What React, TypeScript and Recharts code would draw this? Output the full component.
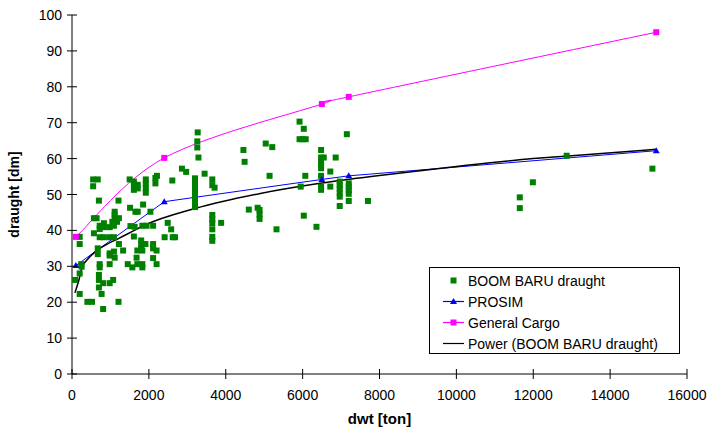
import React from 'react';
import { ComposedChart, Scatter, Line, XAxis, YAxis, Legend } from 'recharts';

const FONT = '"Liberation Sans", Arial, sans-serif';

const X_TICKS = [0, 2000, 4000, 6000, 8000, 10000, 12000, 14000, 16000];
const Y_TICKS = [0, 10, 20, 30, 40, 50, 60, 70, 80, 90, 100];

// measured ship data [dwt, draught]
const boomBaru: [number, number][] = [
  [3270, 67.3], [3260, 64.8], [3260, 63.1], [3290, 60.3], [4460, 62.4], [4490, 59.1],
  [2860, 57.2], [2970, 56.3], [3450, 55.8], [2210, 55.2],
  [550, 54.2], [670, 54.2], [550, 52.3], [1500, 54.2], [1610, 53.6], [1610, 52.8], [1610, 51.3],
  [1710, 52.7], [1710, 51.7], [1920, 54.2], [1920, 53], [1920, 51.7], [1920, 50.5],
  [2170, 54.6], [2170, 53.1], [2610, 53.9],
  [3200, 54.5], [3200, 53.5], [3200, 52.5], [3200, 51.5], [3200, 50.5], [3200, 49.5],
  [3200, 48.5], [3200, 47.5], [3200, 46.5],
  [3650, 54.2], [3650, 52.6], [3710, 51.9],
  [700, 48.3], [1210, 48.3], [1850, 47.2], [1510, 46.3], [1650, 45.2], [1710, 45.2], [2040, 45.2],
  [1110, 45.2], [1110, 44.3], [570, 43.4], [640, 43.4], [1110, 43.4], [1220, 43.4],
  [1050, 42.4], [1170, 42.4], [830, 42], [720, 41.3], [830, 40.9], [720, 40.4], [980, 40.9],
  [1090, 41.3], [570, 39.2], [1520, 41.2], [1630, 41], [1830, 41.3], [1940, 41.3], [2110, 41.3],
  [2490, 42.1], [2580, 40.3], [2410, 38.1], [2620, 38.1], [2680, 38.1], [200, 38.2], [200, 36.2],
  [720, 38.1], [830, 38.1], [980, 38.1], [1090, 38.1], [1610, 38.3], [1800, 37.2], [1800, 36.2],
  [1800, 35], [1910, 36.2], [1220, 36.2], [670, 35], [980, 33.6], [1090, 34.1], [1330, 34.4],
  [1700, 34.4], [1830, 34.4], [2110, 36.2], [2110, 35], [2200, 34.4], [670, 33.4], [980, 33],
  [1110, 32.4], [1680, 32.4], [2110, 32.3], [1450, 30.6], [1570, 29.7], [1700, 30.6],
  [1830, 29.7], [1830, 30.6], [2200, 30.6], [980, 30.6], [720, 30.6], [720, 29.7], [240, 30.6],
  [250, 29.9], [200, 28], [80, 26.2], [700, 27.6], [700, 26.2], [810, 25.3], [980, 25.3],
  [1070, 26.2], [700, 24.1], [770, 22.3], [200, 22.3], [400, 20.1], [520, 20.1], [1210, 20.1],
  [810, 18.1],
  [5920, 70.3], [6030, 68.3], [5920, 65.4], [6000, 65.4], [6080, 65.4], [7150, 66.8],
  [5040, 64.2], [5210, 63.2], [6480, 62.4], [6480, 60.3], [6550, 60.3], [6480, 59.1],
  [6480, 58.2], [6480, 57.3], [6860, 60.3], [6720, 56.4], [6480, 55.2], [5140, 55.2],
  [6070, 55.2], [5950, 52.2], [6480, 52.2], [6480, 51.3], [6720, 52.2],
  [6965, 53.6], [6965, 52.6], [6965, 51.6], [6965, 50.5], [6965, 49.4],
  [7200, 53.1], [7200, 52.2], [7200, 51.2], [7200, 50.2], [7200, 48.2], [7700, 48.2], [6965, 46.8],
  [4600, 45.8], [4830, 46.3], [4880, 45.7], [4880, 44.5], [4880, 43.2],
  [3650, 44.3], [3650, 43.1], [3650, 42], [3880, 42.1], [3650, 40.3], [3650, 38.2], [3650, 37.1],
  [5320, 40.3], [6030, 44.1], [6360, 41],
  [11650, 49.2], [11650, 46.2], [11990, 53.4], [12870, 60.8], [15100, 57.2],
];

const prosim: [number, number][] = [
  [100, 30.2], [2400, 48], [6500, 54.2], [7200, 55.2], [15200, 62.2],
];

const generalCargo: [number, number][] = [
  [100, 38.2], [2400, 60.2], [6500, 75.2], [7200, 77.2], [15200, 95.2],
];

// power trendline
const powerTrend: [number, number][] = [
  [75, 22.6], [180, 26.2], [265, 29.9], [395, 31.8], [610, 34.1], [870, 35.9], [1220, 37.8],
  [1480, 39.2], [1900, 41.5], [3200, 46.1], [4900, 50.3], [6500, 53.2], [8000, 55.3],
  [10000, 57.8], [12000, 60], [13000, 60.8], [15200, 62.6],
];

const toPoints = (arr: [number, number][]) => arr.map(([x, y]) => ({ x, y }));

// Excel-style smoothed line (Catmull-Rom as cubic beziers)
function excelSmooth(context: any) {
  let pts: number[][] = [];
  return {
    areaStart() {},
    areaEnd() {},
    lineStart() {
      pts = [];
    },
    point(x: number, y: number) {
      pts.push([+x, +y]);
    },
    lineEnd() {
      const n = pts.length;
      if (!n) return;
      context.moveTo(pts[0][0], pts[0][1]);
      for (let i = 0; i < n - 1; i++) {
        const p0 = pts[Math.max(0, i - 1)];
        const p1 = pts[i];
        const p2 = pts[i + 1];
        const p3 = pts[Math.min(n - 1, i + 2)];
        context.bezierCurveTo(
          p1[0] + (p2[0] - p0[0]) / 6,
          p1[1] + (p2[1] - p0[1]) / 6,
          p2[0] - (p3[0] - p1[0]) / 6,
          p2[1] - (p3[1] - p1[1]) / 6,
          p2[0],
          p2[1],
        );
      }
    },
  };
}

const XTick = ({ x, y, payload }: any) => (
  <g>
    <line x1={x} x2={x} y1={y - 5} y2={y + 5} stroke="#000" strokeWidth={1} />
    <text x={x} y={y + 26} textAnchor="middle" fontSize={14} fontFamily={FONT} fill="#000">
      {payload.value}
    </text>
  </g>
);

const YTick = ({ x, y, payload }: any) => (
  <g>
    <line x1={x - 5} x2={x + 5} y1={y} y2={y} stroke="#000" strokeWidth={1} />
    <text x={x - 10} y={y + 5} textAnchor="end" fontSize={14} fontFamily={FONT} fill="#000">
      {payload.value}
    </text>
  </g>
);

const GreenSquare = ({ cx, cy }: any) => (
  <rect x={cx - 3} y={cy - 3} width={6} height={6} fill="#008000" />
);

const BlueTriangle = ({ cx, cy }: any) =>
  cx == null ? null : (
    <path d={`M${cx},${cy - 3.5}L${cx + 3.5},${cy + 2.5}L${cx - 3.5},${cy + 2.5}Z`} fill="#0000FF" />
  );

const PinkSquare = ({ cx, cy }: any) =>
  cx == null ? null : <rect x={cx - 3} y={cy - 3} width={6} height={6} fill="#FF00FF" />;

const legendRows = [
  { name: 'BOOM BARU draught', color: '#008000', line: false, marker: 'square' },
  { name: 'PROSIM', color: '#0000FF', line: true, marker: 'triangle' },
  { name: 'General Cargo', color: '#FF00FF', line: true, marker: 'square' },
  { name: 'Power (BOOM BARU draught)', color: '#000000', line: true, marker: 'none' },
];

function LegendBox() {
  return (
    <div
      style={{
        width: 251,
        height: 87,
        boxSizing: 'border-box',
        border: '1px solid #000',
        background: '#fff',
        paddingTop: 2,
        fontFamily: FONT,
        fontSize: 14,
      }}
    >
      {legendRows.map((r) => (
        <div key={r.name} style={{ display: 'flex', alignItems: 'center', height: 21 }}>
          <svg width={38} height={21} style={{ flex: 'none' }}>
            {r.line && <line x1={13} x2={34} y1={10.5} y2={10.5} stroke={r.color} strokeWidth={1.2} />}
            {r.marker === 'square' && <rect x={20.5} y={7.5} width={6} height={6} fill={r.color} />}
            {r.marker === 'triangle' && <path d="M23.5,7L27,13L20,13Z" fill={r.color} />}
          </svg>
          <span style={{ whiteSpace: 'nowrap' }}>{r.name}</span>
        </div>
      ))}
    </div>
  );
}

export default function App() {
  return (
    <div style={{ position: 'absolute', left: 0, top: 0, width: 710, height: 428, background: '#fff' }}>
      <ComposedChart width={710} height={428} margin={{ top: 15, right: 23, left: 0, bottom: 0 }}>
        <XAxis
          type="number"
          dataKey="x"
          domain={[0, 16000]}
          ticks={X_TICKS}
          interval={0}
          height={54}
          tickSize={0}
          tickMargin={0}
          tickLine={false}
          tick={<XTick />}
          axisLine={{ stroke: '#808080', strokeWidth: 2 }}
          label={{
            value: 'dwt [ton]',
            position: 'insideBottom',
            offset: 4,
            style: { fontFamily: FONT, fontSize: 15, fontWeight: 'bold', fill: '#000' },
          }}
        />
        <YAxis
          type="number"
          dataKey="y"
          domain={[0, 100]}
          ticks={Y_TICKS}
          interval={0}
          width={72}
          tickSize={0}
          tickMargin={0}
          tickLine={false}
          tick={<YTick />}
          axisLine={{ stroke: '#000', strokeWidth: 1 }}
          label={{
            value: 'draught  [dm]',
            angle: -90,
            position: 'insideLeft',
            offset: 14,
            style: { fontFamily: FONT, fontSize: 14, fontWeight: 'bold', fill: '#000', textAnchor: 'middle', whiteSpace: 'pre' },
          }}
        />
        <Scatter
          name="BOOM BARU draught"
          data={toPoints(boomBaru)}
          dataKey="y"
          shape={<GreenSquare />}
          isAnimationActive={false}
        />
        <Line
          name="PROSIM"
          data={toPoints(prosim)}
          dataKey="y"
          type="linear"
          stroke="#0000FF"
          strokeWidth={1}
          dot={<BlueTriangle />}
          activeDot={false}
          isAnimationActive={false}
        />
        <Line
          name="General Cargo"
          data={toPoints(generalCargo)}
          dataKey="y"
          type={excelSmooth as any}
          stroke="#FF00FF"
          strokeWidth={1}
          dot={<PinkSquare />}
          activeDot={false}
          isAnimationActive={false}
        />
        <Line
          name="Power (BOOM BARU draught)"
          data={toPoints(powerTrend)}
          dataKey="y"
          type="monotone"
          stroke="#000"
          strokeWidth={1.5}
          dot={false}
          activeDot={false}
          isAnimationActive={false}
        />
        <Legend
          layout="vertical"
          align="center"
          verticalAlign="middle"
          content={() => <LegendBox />}
          wrapperStyle={{ left: 429, top: 267, width: 251, height: 87 }}
        />
      </ComposedChart>
    </div>
  );
}
